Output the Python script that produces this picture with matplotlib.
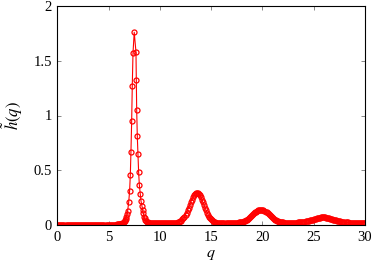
import numpy as np
import matplotlib
matplotlib.use("Agg")
import matplotlib.pyplot as plt
from matplotlib.ticker import FuncFormatter

# ---- data ----
# flat region 0.0 .. 5.9 (step 0.1)
h_low = [0.003] * 50 + [0.003, 0.003, 0.003, 0.003, 0.003, 0.004, 0.004, 0.004, 0.005, 0.005]

# main peak region (explicit samples)
q_peak = [6.00, 6.07, 6.14, 6.21, 6.28, 6.35, 6.42, 6.49, 6.56, 6.62, 6.67, 6.73, 6.80, 6.86,
          6.96, 7.05, 7.12, 7.18, 7.25, 7.31, 7.38, 7.50, 7.67, 7.70, 7.74, 7.80, 7.87, 7.93,
          8.00, 8.09, 8.16, 8.26, 8.32, 8.38, 8.45, 8.52, 8.58, 8.65, 8.71]
h_peak = [0.006, 0.007, 0.008, 0.010, 0.013, 0.016, 0.021, 0.028, 0.037, 0.047, 0.058, 0.076, 0.100, 0.130,
          0.207, 0.310, 0.460, 0.667, 0.947, 1.270, 1.570, 1.760, 1.580, 1.320, 1.050, 0.810, 0.645, 0.480,
          0.365, 0.280, 0.220, 0.170, 0.137, 0.107, 0.076, 0.060, 0.046, 0.037, 0.030]

# region 8.8 .. 30.0 (step 0.1)
h_tail = (
    [0.026, 0.022]
    + [0.019, 0.017, 0.016, 0.015, 0.015, 0.015, 0.015, 0.015, 0.015, 0.015]   # 9.x
    + [0.015, 0.015, 0.015, 0.015, 0.015, 0.015, 0.015, 0.015, 0.015, 0.015]   # 10.x
    + [0.015, 0.015, 0.016, 0.016, 0.017, 0.018, 0.019, 0.021, 0.024, 0.028]   # 11.x
    + [0.034, 0.041, 0.051, 0.062, 0.077, 0.094, 0.113, 0.135, 0.158, 0.182]   # 12.x
    + [0.207, 0.230, 0.252, 0.270, 0.284, 0.292, 0.295, 0.292, 0.284, 0.270]   # 13.x
    + [0.252, 0.230, 0.207, 0.182, 0.158, 0.135, 0.113, 0.094, 0.077, 0.063]   # 14.x
    + [0.051, 0.042, 0.035, 0.029, 0.025, 0.022, 0.020, 0.019, 0.018, 0.018]   # 15.x
    + [0.018, 0.018, 0.018, 0.019, 0.019, 0.019, 0.019, 0.020, 0.020, 0.020]   # 16.x
    + [0.020, 0.020, 0.020, 0.021, 0.021, 0.022, 0.022, 0.023, 0.025, 0.026]   # 17.x
    + [0.028, 0.031, 0.034, 0.038, 0.043, 0.049, 0.055, 0.063, 0.071, 0.079]   # 18.x
    + [0.088, 0.097, 0.106, 0.115, 0.123, 0.129, 0.134, 0.138, 0.140, 0.140]   # 19.x
    + [0.138, 0.134, 0.129, 0.123, 0.115, 0.106, 0.097, 0.088, 0.079, 0.071]   # 20.x
    + [0.063, 0.055, 0.049, 0.043, 0.038, 0.034, 0.031, 0.028, 0.026, 0.025]   # 21.x
    + [0.023, 0.022, 0.022, 0.021, 0.021, 0.020, 0.020, 0.020, 0.020, 0.021]   # 22.x
    + [0.021, 0.021, 0.021, 0.022, 0.022, 0.023, 0.024, 0.024, 0.025, 0.027]   # 23.x
    + [0.028, 0.030, 0.032, 0.034, 0.036, 0.039, 0.042, 0.044, 0.047, 0.050]   # 24.x
    + [0.053, 0.056, 0.059, 0.062, 0.064, 0.066, 0.068, 0.069, 0.070, 0.070]   # 25.x
    + [0.070, 0.069, 0.068, 0.066, 0.064, 0.062, 0.059, 0.056, 0.053, 0.050]   # 26.x
    + [0.047, 0.044, 0.042, 0.039, 0.036, 0.034, 0.032, 0.030, 0.028, 0.027]   # 27.x
    + [0.025, 0.024, 0.024, 0.023, 0.022, 0.022, 0.021, 0.021, 0.021, 0.021]   # 28.x
    + [0.020, 0.020, 0.020, 0.020, 0.020, 0.020, 0.020, 0.020, 0.020, 0.020]   # 29.x
    + [0.020]                                                                  # 30.0
)

x_ticks = [0, 5, 10, 15, 20, 25, 30]
y_ticks = [0, 0.5, 1, 1.5, 2]

# sampling grids of the uniform parts
q_low = np.round(0.1 * np.arange(len(h_low)), 2)
q_tail = np.round(8.8 + 0.1 * np.arange(len(h_tail)), 2)

q = np.concatenate([q_low, q_peak, q_tail])
h = np.concatenate([h_low, h_peak, h_tail])

# ---- plot ----
plt.rcParams['font.family'] = ['Liberation Serif', 'DejaVu Serif']
plt.rcParams['mathtext.fontset'] = 'stix'

fig = plt.figure(figsize=(3.74, 2.62), dpi=100)
ax = fig.add_axes([57.3 / 374, 37 / 262, (365 - 57.3) / 374, 219 / 262])

ax.plot(q, h, color='red', lw=0.8, marker='o', ms=3.6, mfc='none', mec='red', mew=0.9)

ax.set_xlim(0, 30)
ax.set_ylim(0, 2)
ax.set_xticks(x_ticks)
ax.set_yticks(y_ticks)
fmt = FuncFormatter(lambda v, p: '%g' % v)
ax.xaxis.set_major_formatter(fmt)
ax.yaxis.set_major_formatter(fmt)
ax.tick_params(direction='in', top=True, right=True, length=3, width=0.5,
               color='0.35', labelsize=10.5, pad=4)
for s in ax.spines.values():
    s.set_linewidth(0.8)
    s.set_color('black')

ax.set_xlabel(r'$q$', fontsize=11.5, labelpad=2)
ax.set_ylabel(r'$\tilde{h}(q)$', fontsize=12, labelpad=6)

fig.savefig('out.png', dpi=100)
